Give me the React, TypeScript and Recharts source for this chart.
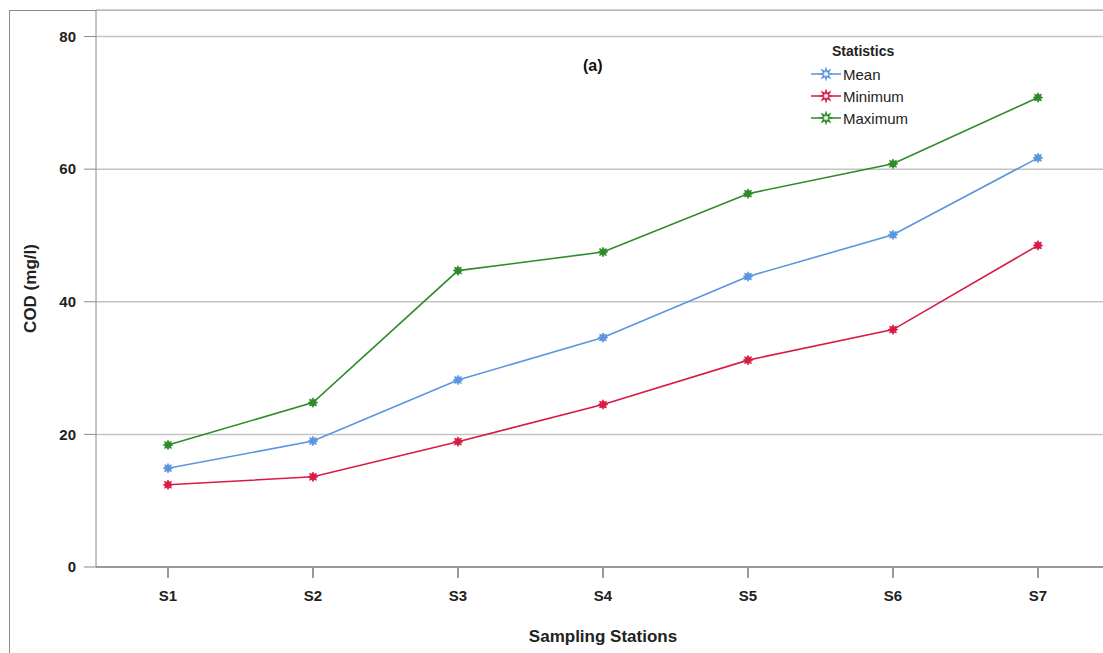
import React from "react";
import { LineChart, Line, XAxis, YAxis, CartesianGrid } from "recharts";

const stations = ["S1", "S2", "S3", "S4", "S5", "S6", "S7"];
const meanValues = [14.9, 19.0, 28.2, 34.6, 43.8, 50.1, 61.7];
const minValues = [12.4, 13.6, 18.9, 24.5, 31.2, 35.8, 48.5];
const maxValues = [18.4, 24.8, 44.7, 47.5, 56.3, 60.8, 70.8];
const yTicks = [0, 20, 40, 60, 80];

const data = stations.map((s, i) => ({
  station: s,
  mean: meanValues[i],
  min: minValues[i],
  max: maxValues[i],
}));

const series = [
  { key: "mean", name: "Mean", color: "#5b95de" },
  { key: "min", name: "Minimum", color: "#d81b45" },
  { key: "max", name: "Maximum", color: "#2f8a2a" },
];

const FONT = "'Liberation Sans', Arial, sans-serif";

function starPoints(cx: number, cy: number, outer: number, inner: number) {
  const pts: string[] = [];
  for (let i = 0; i < 16; i++) {
    const r = i % 2 === 0 ? outer : inner;
    const a = (Math.PI * i) / 8 - Math.PI / 2;
    pts.push(`${cx + r * Math.cos(a)},${cy + r * Math.sin(a)}`);
  }
  return pts.join(" ");
}

const StarDot = (color: string) => (props: any) => {
  const { cx, cy, index } = props;
  if (cx == null || cy == null) return null;
  return (
    <polygon
      key={`dot-${index}`}
      points={starPoints(cx, cy, 4.8, 2.8)}
      fill={color}
      stroke={color}
      strokeWidth={0.8}
    />
  );
};

const StatsLegend = () => (
  <div
    style={{
      position: "absolute",
      left: 811,
      top: 43,
      fontFamily: FONT,
      fontSize: 15,
      color: "#222",
    }}
  >
    <div style={{ fontWeight: "bold", marginLeft: 21, height: 20, fontSize: 14 }}>Statistics</div>
    {series.map((s) => (
      <div key={s.key} style={{ display: "flex", alignItems: "center", height: 22 }}>
        <svg width={30} height={14}>
          <line x1={0} y1={7} x2={30} y2={7} stroke={s.color} strokeWidth={1.5} />
          <polygon points={starPoints(15, 7, 5.5, 2.5)} fill="#fff" stroke={s.color} strokeWidth={1.3} />
        </svg>
        <span style={{ marginLeft: 2 }}>{s.name}</span>
      </div>
    ))}
  </div>
);

export default function App() {
  return (
    <div
      style={{
        position: "absolute",
        left: 0,
        top: 0,
        width: 1103,
        height: 653,
        overflow: "hidden",
        background: "#fff",
      }}
    >
      <div
        style={{
          position: "absolute",
          left: 9,
          top: 10,
          width: 1200,
          height: 700,
          borderLeft: "1px solid #8a8a8a",
          borderTop: "1px solid #8a8a8a",
        }}
      />
      <div
        style={{
          position: "absolute",
          left: 583,
          top: 57,
          fontFamily: FONT,
          fontWeight: "bold",
          fontSize: 16,
          color: "#111",
        }}
      >
        (a)
      </div>
      <LineChart
        width={1110}
        height={660}
        data={data}
        margin={{ top: 10, right: 0, left: 0, bottom: 0 }}
        style={{ position: "absolute", left: 0, top: 0 }}
      >
        <CartesianGrid vertical={false} stroke="#c4c4c4" strokeWidth={1.5} />
        <XAxis
          dataKey="station"
          height={93}
          padding={{ left: 72, right: 72 }}
          tickSize={11}
          tickMargin={12}
          stroke="#9a9a9a"
          strokeWidth={2}
          tick={{ fill: "#222", fontFamily: FONT, fontWeight: "bold", fontSize: 15 }}
          label={{
            value: "Sampling Stations",
            position: "insideBottom",
            offset: 18,
            style: { fill: "#222", fontFamily: FONT, fontWeight: "bold", fontSize: 17 },
          }}
        />
        <YAxis
          width={96}
          domain={[0, 84]}
          ticks={yTicks}
          tickSize={12}
          tickMargin={8}
          stroke="#8a8a8a"
          tick={{ fill: "#222", fontFamily: FONT, fontWeight: "bold", fontSize: 15 }}
          label={{
            value: "COD (mg/l)",
            angle: -90,
            position: "insideLeft",
            offset: 30,
            style: { fill: "#222", fontFamily: FONT, fontWeight: "bold", fontSize: 17, textAnchor: "middle" },
          }}
        />
        {series.map((s) => (
          <Line
            key={s.key}
            type="linear"
            dataKey={s.key}
            name={s.name}
            stroke={s.color}
            strokeWidth={1.6}
            dot={StarDot(s.color)}
            activeDot={false}
            isAnimationActive={false}
          />
        ))}
      </LineChart>
      <StatsLegend />
    </div>
  );
}
